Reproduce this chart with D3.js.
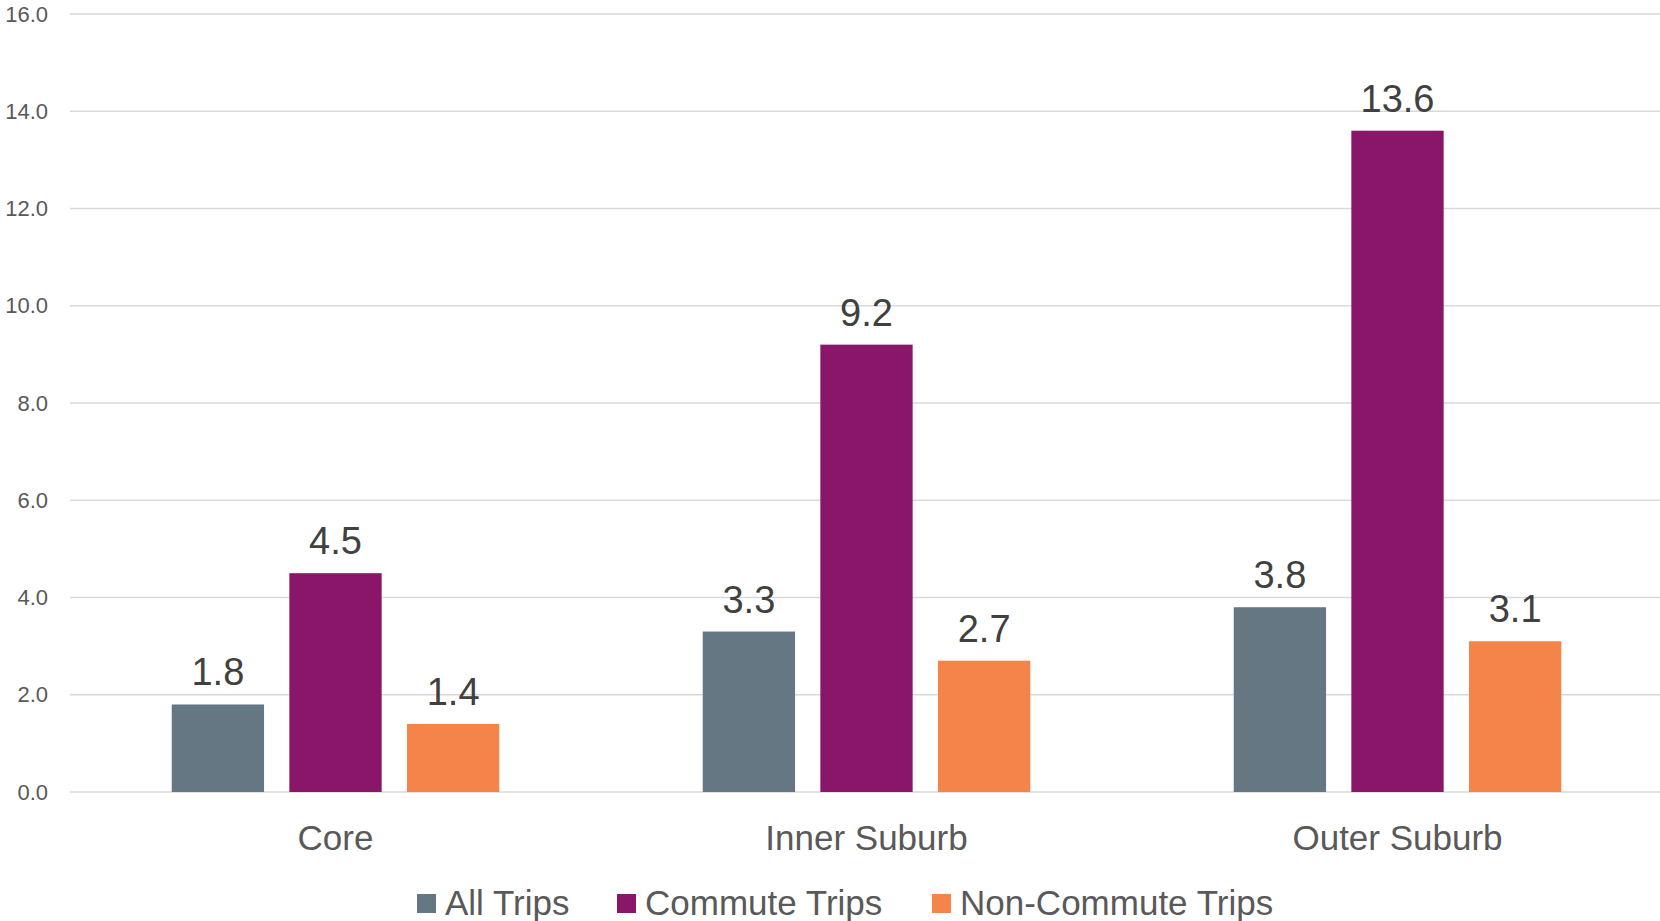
<!DOCTYPE html>
<html>
<head>
<meta charset="utf-8">
<script src="https://cdn.jsdelivr.net/npm/d3@7"></script>
<style>
  body { margin: 0; background: #fff; }
  svg { display: block; }
</style>
</head>
<body>
<div id="chart"></div>
<script>
// data
var categories = ["Core", "Inner Suburb", "Outer Suburb"];
var seriesNames = ["All Trips", "Commute Trips", "Non-Commute Trips"];
var allTrips = [1.8, 3.3, 3.8];
var commuteTrips = [4.5, 9.2, 13.6];
var nonCommuteTrips = [1.4, 2.7, 3.1];
var yTicks = [0, 2, 4, 6, 8, 10, 12, 14, 16];

var colors = ["#647782", "#891668", "#f48449"];
var seriesValues = [allTrips, commuteTrips, nonCommuteTrips];

var width = 1660, height = 921;
var margin = {top: 14, right: -3, bottom: 129, left: 70};

var svg = d3.select("#chart")
    .append("svg")
    .attr("width", width)
    .attr("height", height);

var x0 = d3.scaleBand()
    .domain(categories)
    .range([margin.left, width - margin.right]);

var x1 = d3.scaleBand()
    .domain(seriesNames)
    .range([0, x0.bandwidth()])
    .paddingInner(0.215)
    .paddingOuter(0.865);

var y = d3.scaleLinear()
    .domain([0, 16])
    .range([height - margin.bottom, margin.top]);

// gridlines
svg.append("g")
    .selectAll("line")
    .data(yTicks)
    .enter()
    .append("line")
    .attr("x1", margin.left)
    .attr("x2", width)
    .attr("y1", function(d) { return y(d); })
    .attr("y2", function(d) { return y(d); })
    .attr("stroke", "#d9d9d9")
    .attr("stroke-width", 1.5);

// y tick labels
var yAxis = d3.axisLeft(y)
    .tickValues(yTicks)
    .tickFormat(d3.format(".1f"))
    .tickSize(0)
    .tickPadding(0);

var yg = svg.append("g")
    .attr("transform", "translate(48,0)")
    .call(yAxis);
yg.select(".domain").remove();
yg.selectAll("text")
    .attr("font-family", "'Liberation Sans', Arial, sans-serif")
    .attr("font-size", "22px")
    .attr("fill", "#595959");

// bars
var groups = svg.selectAll(".group")
    .data(categories)
    .enter()
    .append("g")
    .attr("class", "group")
    .attr("transform", function(d) { return "translate(" + x0(d) + ",0)"; });

groups.selectAll("rect")
    .data(function(d, i) {
        return seriesNames.map(function(s, j) {
            return {series: s, value: seriesValues[j][i], color: colors[j]};
        });
    })
    .enter()
    .append("rect")
    .attr("x", function(d) { return x1(d.series); })
    .attr("y", function(d) { return y(d.value); })
    .attr("width", x1.bandwidth())
    .attr("height", function(d) { return y(0) - y(d.value); })
    .attr("fill", function(d) { return d.color; });

groups.selectAll(".label")
    .data(function(d, i) {
        return seriesNames.map(function(s, j) {
            return {series: s, value: seriesValues[j][i]};
        });
    })
    .enter()
    .append("text")
    .attr("class", "label")
    .attr("x", function(d) { return x1(d.series) + x1.bandwidth() / 2; })
    .attr("y", function(d) { return y(d.value) - 19; })
    .attr("text-anchor", "middle")
    .attr("font-family", "'Liberation Sans', Arial, sans-serif")
    .attr("font-size", "38px")
    .attr("fill", "#404040")
    .text(function(d) { return d3.format(".1f")(d.value); });

// category labels
var xAxis = d3.axisBottom(x0).tickSize(0).tickPadding(0);
var xg = svg.append("g")
    .attr("transform", "translate(0,824)")
    .call(xAxis);
xg.select(".domain").remove();
xg.selectAll("text")
    .attr("dy", 0)
    .attr("y", 26)
    .attr("font-family", "'Liberation Sans', Arial, sans-serif")
    .attr("font-size", "35px")
    .attr("fill", "#595959");

// legend
var legendX = [417, 617, 932];
var legend = svg.selectAll(".legend")
    .data(seriesNames)
    .enter()
    .append("g")
    .attr("class", "legend")
    .attr("transform", function(d, i) { return "translate(" + legendX[i] + ",894)"; });

legend.append("rect")
    .attr("width", 19)
    .attr("height", 19)
    .attr("fill", function(d, i) { return colors[i]; });

legend.append("text")
    .attr("x", 28)
    .attr("y", 21)
    .attr("font-family", "'Liberation Sans', Arial, sans-serif")
    .attr("font-size", "35px")
    .attr("fill", "#595959")
    .text(function(d) { return d; });
</script>
</body>
</html>
